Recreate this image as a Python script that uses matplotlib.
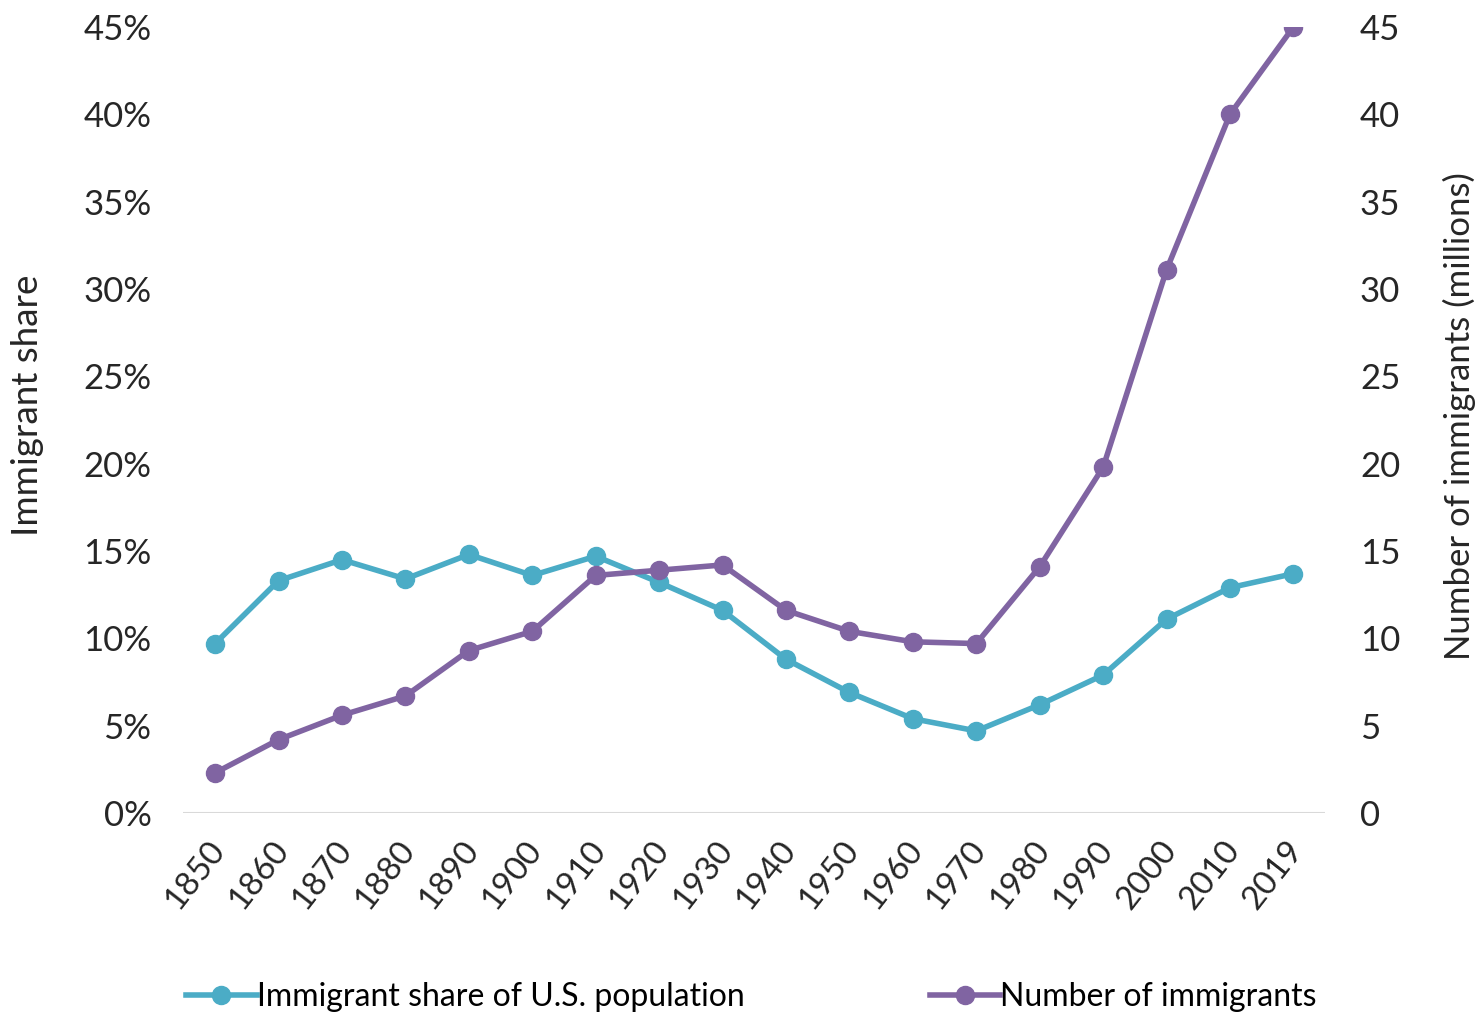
import matplotlib
matplotlib.use("Agg")
import matplotlib.pyplot as plt
import matplotlib.transforms as mtransforms
import numpy as np
from matplotlib.ticker import FuncFormatter

plt.rcParams['font.family'] = ['Lato', 'DejaVu Sans']

years = ['1850', '1860', '1870', '1880', '1890', '1900', '1910', '1920', '1930',
         '1940', '1950', '1960', '1970', '1980', '1990', '2000', '2010', '2019']
share_pct = [9.7, 13.3, 14.5, 13.4, 14.8, 13.6, 14.7, 13.2, 11.6,
             8.8, 6.9, 5.4, 4.7, 6.2, 7.9, 11.1, 12.9, 13.7]
immigrants_m = [2.3, 4.2, 5.6, 6.7, 9.3, 10.4, 13.6, 13.9, 14.2,
                11.6, 10.4, 9.8, 9.7, 14.1, 19.8, 31.1, 40.0, 45.0]

blue = '#4BACC6'
purple = '#8064A2'
txt = '#262626'

fig = plt.figure(figsize=(14.79, 10.15), dpi=100)
ax = fig.add_axes([0.124, 0.199, 0.772, 0.7745])
ax2 = ax.twinx()

x = np.arange(len(years))
l1, = ax.plot(x, share_pct, color=blue, lw=4, marker='o', ms=13,
              label='Immigrant share of U.S. population', zorder=3)
l2, = ax2.plot(x, immigrants_m, color=purple, lw=4, marker='o', ms=13,
               label='Number of immigrants', zorder=3)

ax.set_xlim(-0.5, len(years) - 0.5)
ax.set_ylim(0, 45)
ax2.set_ylim(0, 45)
ax.set_yticks(np.arange(0, 46, 5))
ax2.set_yticks(np.arange(0, 46, 5))
ax.yaxis.set_major_formatter(FuncFormatter(lambda v, p: f'{v:.0f}%'))
ax.axhline(0, color='#d9d9d9', lw=1.5, zorder=1)

for a in (ax, ax2):
    for s in a.spines.values():
        s.set_visible(False)
    a.tick_params(length=0, labelsize=25, colors=txt)

ax.tick_params(axis='y', pad=23)
ax2.tick_params(axis='y', pad=25)
ax.set_xticks(x)
ax.set_xticklabels(years, rotation=52, ha='right', rotation_mode='anchor')
ax.tick_params(axis='x', labelsize=24, pad=16)
# nudge the rotated year labels a little left
shift = mtransforms.ScaledTranslation(-8 / 100, 0, fig.dpi_scale_trans)
for lab in ax.get_xticklabels():
    lab.set_transform(lab.get_transform() + shift)

ax.set_ylabel('Immigrant share', fontsize=26.5, color=txt)
ax.yaxis.set_label_coords(-0.122, 0.519)
ax2.set_ylabel('Number of immigrants (millions)', fontsize=25, color=txt, rotation=90)
ax2.yaxis.set_label_coords(1.103, 0.505)

fig.legend(handles=[l1, l2], loc='center', bbox_to_anchor=(0.508, 0.018), ncol=2,
           frameon=False, fontsize=23, handlelength=2.2, handletextpad=0.0,
           columnspacing=5.8)

fig.savefig('out.png', dpi=100)
